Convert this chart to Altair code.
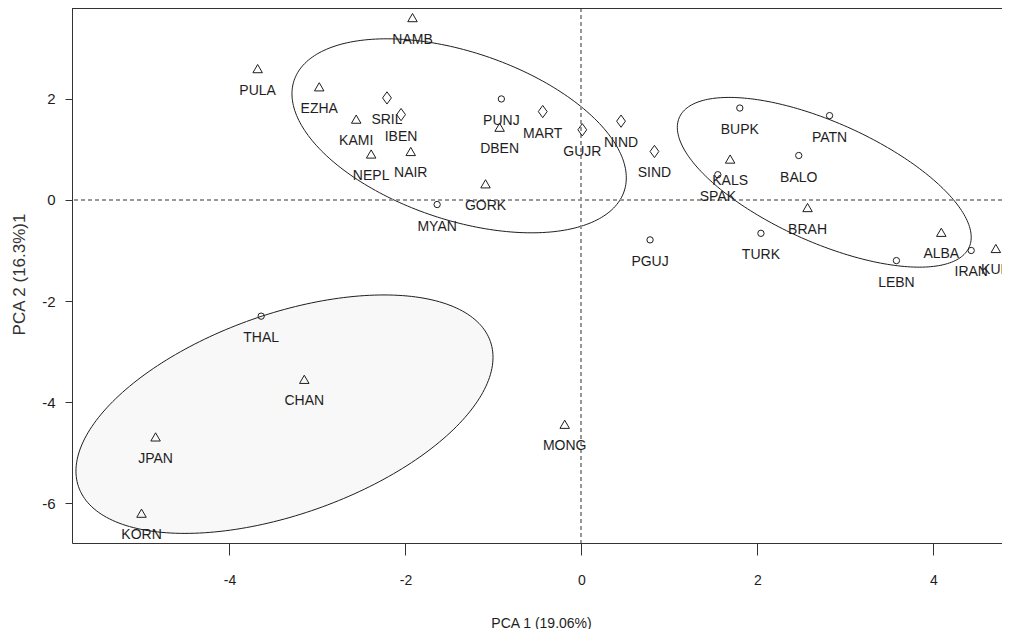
import numpy as np
import pandas as pd
import altair as alt

# ---- data ----
names = ["NAMB", "PULA", "EZHA", "SRIL", "IBEN", "KAMI", "NEPL", "NAIR", "GORK", "MYAN",
         "PUNJ", "DBEN", "MART", "GUJR", "NIND", "SIND", "PGUJ",
         "BUPK", "PATN", "KALS", "BALO", "SPAK", "BRAH", "TURK", "LEBN", "ALBA", "IRAN", "KUR",
         "THAL", "CHAN", "JPAN", "KORN", "MONG"]
pc1 = [-1.92, -3.68, -2.98, -2.21, -2.05, -2.56, -2.39, -1.94, -1.09, -1.64,
       -0.91, -0.93, -0.44, 0.01, 0.45, 0.83, 0.78,
       1.80, 2.82, 1.69, 2.47, 1.55, 2.57, 2.04, 3.58, 4.09, 4.43, 4.71,
       -3.64, -3.15, -4.84, -5.00, -0.19]
pc2 = [3.61, 2.60, 2.24, 2.02, 1.69, 1.60, 0.91, 0.96, 0.32, -0.09,
       2.00, 1.44, 1.75, 1.39, 1.56, 0.96, -0.79,
       1.82, 1.67, 0.81, 0.88, 0.50, -0.15, -0.66, -1.20, -0.64, -1.00, -0.96,
       -2.30, -3.55, -4.69, -6.20, -4.44]
groups = ["tri", "tri", "tri", "dia", "dia", "tri", "tri", "tri", "tri", "cir",
          "cir", "tri", "dia", "dia", "dia", "dia", "cir",
          "cir", "cir", "tri", "cir", "cir", "tri", "cir", "cir", "tri", "cir", "tri",
          "cir", "tri", "tri", "tri", "tri"]

# confidence ellipses: centre, half-extent along x and y, correlation
ell_cx = [-1.39, 2.76, -3.375]
ell_cy = [1.27, 0.35, -4.24]
ell_rx = [1.90, 1.67, 2.37]
ell_ry = [1.92, 1.68, 2.36]
ell_r = [-0.433, -0.647, 0.477]
ell_filled = [False, False, True]

x_ticks = [-4, -2, 0, 2, 4]
y_ticks = [-6, -4, -2, 0, 2]
XMIN, XMAX = -5.79, 4.78
YMIN, YMAX = -6.79, 3.80

FONT = "Liberation Sans, Arial, sans-serif"
INK = "#1e1e1e"

pts = pd.DataFrame({"name": names, "pc1": pc1, "pc2": pc2, "grp": groups})

# ellipse outlines
rows = []
t = np.linspace(0, 2 * np.pi, 241)
for k in range(len(ell_cx)):
    ex = ell_cx[k] + ell_rx[k] * np.cos(t)
    ey = ell_cy[k] + ell_ry[k] * (ell_r[k] * np.cos(t) + np.sqrt(1 - ell_r[k] ** 2) * np.sin(t))
    for i in range(len(t)):
        rows.append({"eid": k, "i": i, "ex": ex[i], "ey": ey[i]})
ell_df = pd.DataFrame(rows)

# ellipse fills
frows = []
th = np.linspace(np.pi, 0, 241)
for k in range(len(ell_cx)):
    if not ell_filled[k]:
        continue
    u = np.cos(th)
    fx = ell_cx[k] + ell_rx[k] * u
    mid = ell_cy[k] + ell_r[k] * ell_ry[k] * u
    half = ell_ry[k] * np.sqrt(1 - ell_r[k] ** 2) * np.sqrt(np.clip(1 - u ** 2, 0, None))
    for i in range(len(th)):
        frows.append({"eid": k, "fx": fx[i], "fy1": mid[i] + half[i], "fy2": mid[i] - half[i]})
fill_df = pd.DataFrame(frows)

xscale = alt.Scale(domain=[XMIN, XMAX], nice=False, zero=False)
yscale = alt.Scale(domain=[YMIN, YMAX], nice=False, zero=False)

xaxis = alt.Axis(values=x_ticks, title="PCA 1 (19.06%)", grid=False, tickSize=12,
                 labelExpr="'' + datum.value",
                 labelPadding=18, labelFont=FONT, labelFontSize=14, labelColor=INK,
                 titleFont=FONT, titleFontSize=14, titleFontWeight="normal", titleColor=INK,
                 titleY=80, titleX=469, titleBaseline="middle",
                 domainColor="#333", tickColor="#333", labelFlush=False)
yaxis = alt.Axis(values=y_ticks, title="PCA 2 (16.3%)1", grid=False, tickSize=7,
                 labelExpr="'' + datum.value",
                 labelPadding=10, labelFont=FONT, labelFontSize=15, labelColor=INK,
                 titleFont=FONT, titleFontSize=17, titleFontWeight="normal", titleColor="#333",
                 titleX=-53, titleY=266, titleAngle=270, titleBaseline="middle", titleAlign="center",
                 domainColor="#333", tickColor="#333", labelFlush=False)

fill_layer = alt.Chart(fill_df).mark_area(color="#f8f8f8", opacity=1).encode(
    x=alt.X("fx:Q", scale=xscale, axis=xaxis),
    y=alt.Y("fy1:Q", scale=yscale, axis=yaxis),
    y2="fy2:Q",
    detail="eid:N",
)

ell_layer = alt.Chart(ell_df).mark_line(color=INK, strokeWidth=1).encode(
    x=alt.X("ex:Q", scale=xscale),
    y=alt.Y("ey:Q", scale=yscale),
    detail="eid:N",
    order="i:Q",
)

vrule = alt.Chart(pts).mark_rule(color="#999", strokeDash=[4, 3], strokeWidth=1).encode(
    x=alt.datum(0))
hrule = alt.Chart(pts).mark_rule(color="#999", strokeDash=[4, 3], strokeWidth=1).encode(
    y=alt.datum(0))
top_border = alt.Chart(pts).mark_rule(color="#333", strokeWidth=1).encode(
    y=alt.datum(YMAX))

DIAMOND = "M-0.72,0L0,-1L0.72,0L0,1Z"
marker_styles = [("tri", "triangle-up", 90), ("dia", DIAMOND, 150), ("cir", "circle", 40)]
point_layers = []
for g, shp, sz in marker_styles:
    point_layers.append(
        alt.Chart(pts).transform_filter(alt.datum.grp == g).mark_point(
            filled=False, color=INK, strokeWidth=1, opacity=1, shape=shp, size=sz).encode(
            x=alt.X("pc1:Q", scale=xscale),
            y=alt.Y("pc2:Q", scale=yscale),
        )
    )

label_layer = alt.Chart(pts).mark_text(font=FONT, fontSize=14, color=INK, dy=22,
                                        baseline="middle", align="center").encode(
    x=alt.X("pc1:Q", scale=xscale),
    y=alt.Y("pc2:Q", scale=yscale),
    text="name:N",
)

chart = alt.layer(fill_layer, ell_layer, vrule, hrule, top_border, *point_layers, label_layer).properties(
    width=930, height=535,
    autosize=alt.AutoSizeParams(type="none"),
    padding={"left": 64, "top": 0, "right": 0, "bottom": 86},
    background="white",
).configure_view(strokeWidth=0)

chart.save("out.html", embed_options={"renderer": "svg", "actions": False})
